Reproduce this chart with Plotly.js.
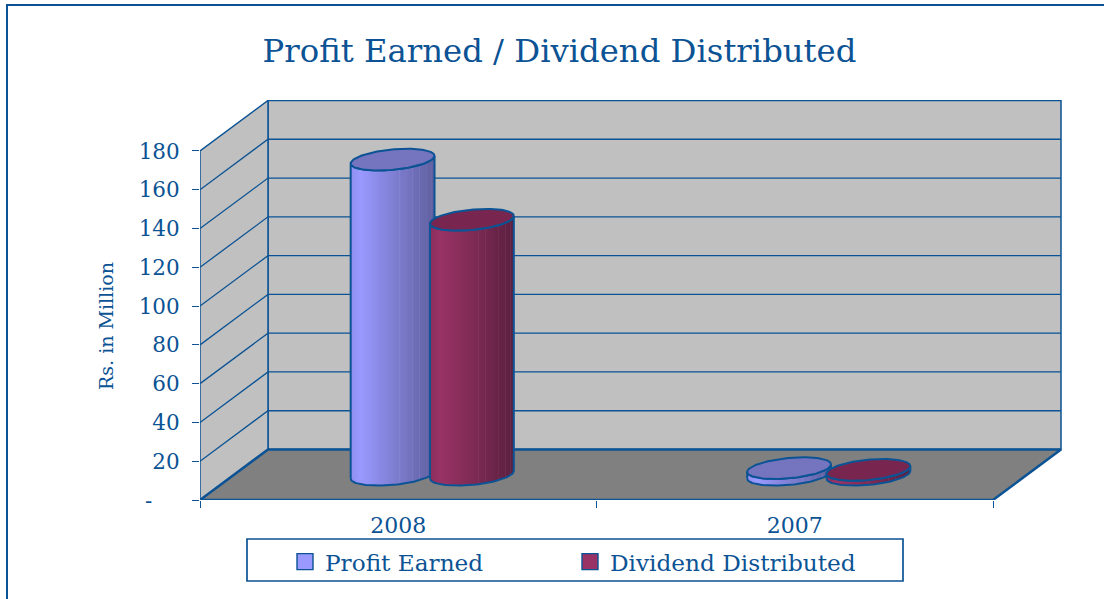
<!DOCTYPE html>
<html><head><meta charset="utf-8">
<script src="https://cdn.plot.ly/plotly-3.0.1.min.js"></script>
<style>html,body{margin:0;padding:0;background:#fff;overflow:hidden}</style>
</head><body><div id="chart" style="width:1104px;height:599px"></div>
<script>
const categories = ['2008', '2007'];
const profitEarned = [162.5, 3.4];
const dividendDistributed = [131.5, 2.5];
const yTicks = [0, 20, 40, 60, 80, 100, 120, 140, 160, 180];
const yTickText = ['-\u00a0\u00a0\u00a0\u00a0', '20', '40', '60', '80', '100', '120', '140', '160', '180'];

const INK = '#0b5394';
const FONT = '"DejaVu Serif", serif';
// oblique projection: category position c, value v, depth d (0 front, 1 back)
const DX = 0.1715, DY = 26.04;
const X = (c, d) => c + DX * d;
const Y = (v, d) => v + DY * d;
const traces = [];
function poly(pts, fill, lineColor, lineWidth, extra) {
  traces.push(Object.assign({
    type: 'scatter', mode: lineColor ? 'lines' : 'none',
    x: pts.map(p => X(p[0], p[2])), y: pts.map(p => Y(p[1], p[2])),
    line: { color: lineColor || 'rgba(0,0,0,0)', width: lineWidth || 1 },
    fill: fill ? 'toself' : 'none', fillcolor: fill || undefined,
    hoverinfo: 'skip', showlegend: false, cliponaxis: false
  }, extra || {}));
}
const N = categories.length, TOP = yTicks[yTicks.length - 1];
poly([[0, 0, 1], [N, 0, 1], [N, TOP, 1], [0, TOP, 1], [0, 0, 1]], '#c0c0c0', INK, 1.5);
poly([[0, 0, 0], [0, 0, 1], [0, TOP, 1], [0, TOP, 0], [0, 0, 0]], '#c0c0c0', INK, 1.5);
yTicks.slice(1, -1).forEach(v => poly([[0, v, 0], [0, v, 1], [N, v, 1]], null, INK, 1.3));
poly([[0, 0, 0], [N, 0, 0], [N, 0, 1], [0, 0, 1], [0, 0, 0]], '#808080', INK, 2.5);

const A = 0.0991, B = 0.215;
function ring(c, v, t0, t1, n) {
  const out = [];
  for (let k = 0; k <= n; k++) {
    const t = t0 + (t1 - t0) * k / n;
    out.push([c + A * Math.cos(t), v, 0.5 + B * Math.sin(t)]);
  }
  return out;
}
const tR = Math.atan2(DX * B, A);
const baseP = [[0, [143, 143, 239]], [0.12, [153, 153, 255]], [0.5, [128, 128, 212]], [1, [95, 95, 159]]];
const baseD = [[0, [138, 44, 92]], [0.12, [153, 51, 102]], [0.5, [128, 43, 85]], [1, [90, 31, 63]]];
const stripeAt = [0.5, 0.58, 0.66, 0.74, 0.82, 0.9, 0.96];
function colourAt(base, p) {
  for (let i = 1; i < base.length; i++) if (p <= base[i][0]) {
    const f = (p - base[i - 1][0]) / (base[i][0] - base[i - 1][0]);
    return base[i - 1][1].map((v, j) => v + (base[i][1][j] - v) * f);
  }
  return base[base.length - 1][1];
}
const css = (c, add) => 'rgb(' + c.map(v => Math.min(255, Math.round(v + add))).join(',') + ')';
function striped(base) {
  const stops = base.map(s => [s[0], css(s[1], 0)]);
  stripeAt.forEach(p => {
    stops.push([p - 0.007, css(colourAt(base, p - 0.007), 0)], [p, css(colourAt(base, p), 12)], [p + 0.007, css(colourAt(base, p + 0.007), 0)]);
  });
  return stops.sort((a, b) => a[0] - b[0]);
}
function cylinder(c, v, scale, topColor) {
  const front = ring(c, 0, tR + Math.PI, tR + 2 * Math.PI, 60);
  const back = ring(c, v, tR + 2 * Math.PI, tR + Math.PI, 60);
  poly(front.concat(back, [front[0]]), '#888888', INK, 2, {
    fillgradient: { type: 'horizontal', colorscale: scale }
  });
  poly(ring(c, v, 0, 2 * Math.PI, 120), topColor, INK, 2);
}
const scaleP = striped(baseP), scaleD = striped(baseD);
categories.forEach((cat, i) => {
  cylinder(i + 0.4, profitEarned[i], scaleP, '#7575bf');
  cylinder(i + 0.6, dividendDistributed[i], scaleD, '#78264f');
});
[['Profit Earned', '#9999ff'], ['Dividend Distributed', '#993366']].forEach(s => traces.push({
  type: 'scatter', mode: 'markers', x: [null], y: [null], name: s[0],
  marker: { symbol: 'square', size: 16, color: s[1], line: { color: INK, width: 1.4 } },
  hoverinfo: 'skip', showlegend: true
}));

const L = 200, R = 1062, T = 100, Bt = 500;
const px = x => (x - L) / (R - L), py = y => (Bt - y) / (Bt - T);
const layout = {
  width: 1104, height: 599, autosize: false,
  paper_bgcolor: '#fff', plot_bgcolor: 'rgba(0,0,0,0)',
  margin: { l: L, r: 1104 - R, t: T, b: 599 - Bt, pad: 0 },
  font: { family: FONT, color: INK },
  title: { text: 'Profit Earned / Dividend Distributed', font: { size: 32.3, color: INK, family: FONT },
    xref: 'container', yref: 'container', x: 559.5 / 1104, y: 1 - 51 / 599, xanchor: 'center', yanchor: 'middle' },
  xaxis: { range: [0, 862 / 396.5], showgrid: false, zeroline: false, showline: false,
    tickmode: 'array', tickvals: categories.map((c, i) => i + 0.5), ticktext: categories, ticks: '',
    ticklabelstandoff: 10, tickfont: { size: 22, color: INK, family: FONT },
    minor: { tickmode: 'array', tickvals: [0, 1, 2], ticks: 'outside', ticklen: 7, tickwidth: 1.3, tickcolor: INK, showgrid: false } },
  yaxis: { range: [0, 400 / 1.939], showgrid: false, zeroline: false, showline: false,
    tickmode: 'array', tickvals: yTicks, ticktext: yTickText, ticks: 'outside', ticklen: 7, tickwidth: 1.3, tickcolor: INK,
    ticklabelstandoff: 8, tickfont: { size: 21.5, color: INK, family: FONT } },
  legend: { orientation: 'h', x: px(285), xanchor: 'left', y: py(562), yanchor: 'middle',
    bgcolor: 'rgba(0,0,0,0)', borderwidth: 0, font: { size: 23.2, color: INK, family: FONT },
    entrywidth: 240, entrywidthmode: 'pixels', itemclick: false, itemdoubleclick: false },
  annotations: [{ text: 'Rs. in Million', xref: 'paper', yref: 'paper', x: px(106), y: py(326), showarrow: false,
    textangle: -90, xanchor: 'center', yanchor: 'middle', font: { size: 19, color: INK, family: FONT } }],
  shapes: [
    { type: 'rect', xref: 'paper', yref: 'paper', x0: px(7), x1: px(1130), y0: py(5), y1: py(640), line: { color: INK, width: 2 }, layer: 'below' },
    { type: 'rect', xref: 'paper', yref: 'paper', x0: px(247), x1: px(903), y0: py(539), y1: py(581), line: { color: INK, width: 1.7 }, fillcolor: '#fff', layer: 'below' }
  ]
};
Plotly.newPlot('chart', traces, layout, { displayModeBar: false });
</script></body></html>
